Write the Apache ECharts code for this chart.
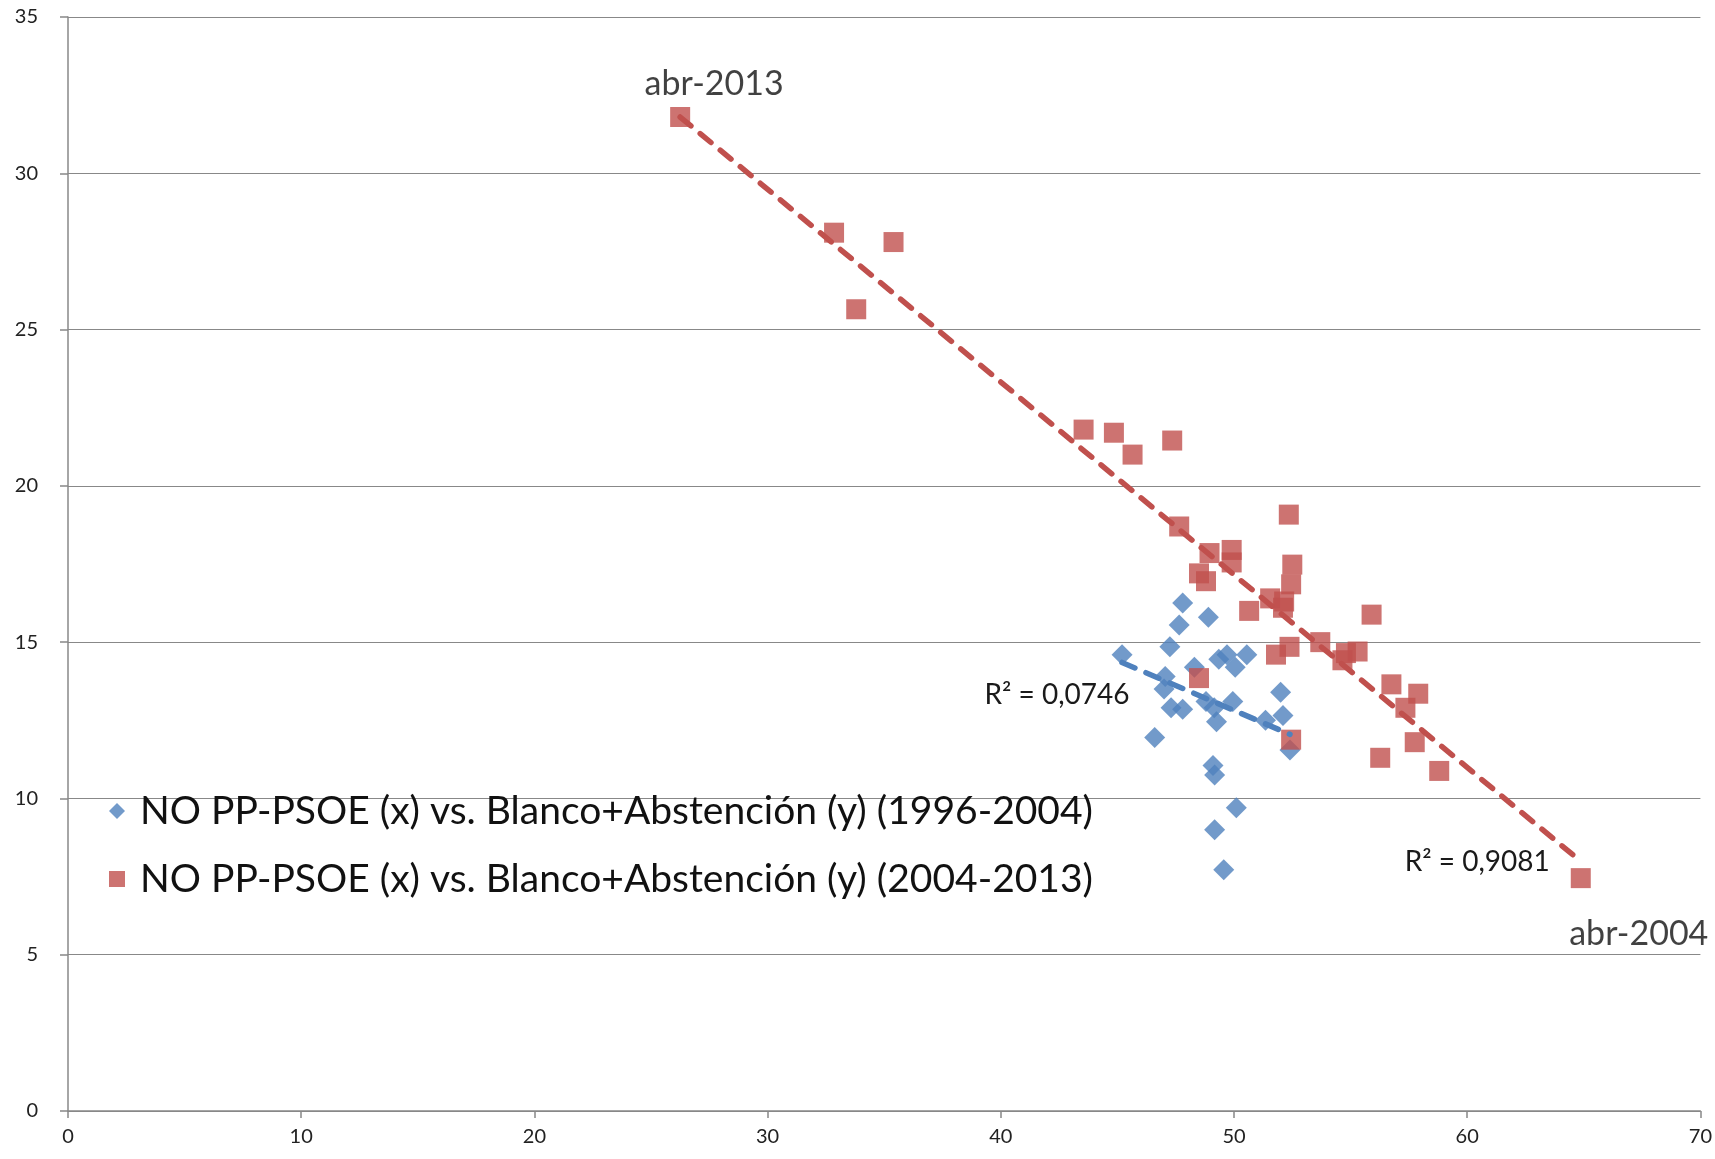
<!DOCTYPE html>
<html><head><meta charset="utf-8">
<script src="https://cdn.jsdelivr.net/npm/echarts@6/dist/echarts.min.js"></script>
<style>html,body{margin:0;padding:0;background:#fff}#c{width:1715px;height:1159px}</style>
</head><body><div id="c"></div>
<script>
const seriesNames = [
  'NO PP-PSOE (x) vs. Blanco+Abstención (y) (1996-2004)',
  'NO PP-PSOE (x) vs. Blanco+Abstención (y) (2004-2013)'
];
// 1996-2004 (blue diamonds)
const blueX = [45.2, 46.6, 47.05, 47.0, 47.25, 47.65, 47.8, 47.3, 47.8, 48.3, 48.9, 48.8, 49.15, 49.25, 49.95,
               49.35, 49.7, 50.55, 50.05, 51.35, 52.0, 52.1, 52.4, 49.1, 49.17, 50.1, 49.17, 49.56];
const blueY = [14.6, 11.95, 13.9, 13.5, 14.85, 15.55, 16.25, 12.9, 12.85, 14.2, 15.8, 13.1, 12.9, 12.45, 13.1,
               14.45, 14.6, 14.6, 14.2, 12.5, 13.4, 12.65, 11.55, 11.05, 10.75, 9.7, 9.0, 7.72];
// 2004-2013 (red squares)
const redX = [26.25, 32.85, 35.4, 33.8, 43.55, 44.85, 45.65, 47.35, 47.65, 48.95, 49.9, 49.9, 48.5, 48.8, 52.35,
              52.5, 52.45, 50.65, 51.55, 52.15, 52.1, 51.8, 52.38, 48.5, 52.45, 53.7, 54.8, 55.3, 54.65, 55.9,
              56.75, 57.9, 57.35, 57.75, 56.27, 58.8, 64.87];
const redY = [31.8, 28.1, 27.8, 25.65, 21.8, 21.7, 21.0, 21.45, 18.7, 17.85, 17.95, 17.55, 17.2, 16.95, 19.08,
              17.48, 16.85, 16.0, 16.4, 16.3, 16.1, 14.6, 14.85, 13.85, 11.88, 15.0, 14.65, 14.7, 14.42, 15.88,
              13.65, 13.35, 12.9, 11.8, 11.3, 10.88, 7.45];
// point annotations: [index into red data, text]
const redPointLabels = [[0, 'abr-2013'], [36, 'abr-2004']];
// trendline endpoints
const blueTrendX = [45.2, 52.4];
const blueTrendY = [14.35, 12.05];
const redTrendX = [26.25, 64.85];
const redTrendY = [31.8, 8.0];
const blueR2 = 'R² = 0,0746';
const redR2 = 'R² = 0,9081';
const xMin = 0, xMax = 70, xStep = 10;
const yMin = 0, yMax = 35, yStep = 5;

const BLUE = '#4F81BD', RED = '#C0504D', GRID = '#888888';
const FONT = 'Lato';

const pointLabelStyle = {
  0: { offset: [34, -33] },
  36: { offset: [58, 56] }
};
const labelIdx = Object.fromEntries(redPointLabels);

const blueData = blueX.map((x, i) => [x, blueY[i]]);
const redData = redX.map((x, i) => {
  const item = { value: [x, redY[i]] };
  if (labelIdx[i] !== undefined) {
    item.label = {
      show: true, formatter: labelIdx[i], position: 'inside',
      offset: pointLabelStyle[i].offset, color: '#111', fontSize: 34, fontFamily: FONT
    };
  }
  return item;
});
function trendData(xs, ys, r2, which, offset) {
  return xs.map((x, i) => {
    const item = { value: [x, ys[i]] };
    if (i === which) {
      item.label = { show: true, formatter: r2, position: 'inside', offset: offset,
        color: '#1a1a1a', fontSize: 28, fontFamily: FONT };
    }
    return item;
  });
}

const chart = echarts.init(document.getElementById('c'), null, { renderer: 'canvas' });
chart.setOption({
  animation: false,
  backgroundColor: '#fff',
  grid: { left: 68, right: 14, top: 17, bottom: 48, containLabel: false },
  xAxis: {
    type: 'value', min: xMin, max: xMax, interval: xStep,
    axisLine: { show: true, lineStyle: { color: GRID, width: 1.5 } },
    axisTick: { show: true, length: 7, lineStyle: { color: GRID, width: 1.5 } },
    splitLine: { show: false },
    axisLabel: { fontSize: 20, color: '#222', fontFamily: FONT, margin: 16 }
  },
  yAxis: {
    type: 'value', min: yMin, max: yMax, interval: yStep,
    axisLine: { show: true, onZero: false, lineStyle: { color: GRID, width: 1.5 } },
    axisTick: { show: true, length: 8, lineStyle: { color: GRID, width: 1.5 } },
    splitLine: { show: true, lineStyle: { color: GRID, width: 1.2 } },
    axisLabel: { fontSize: 20, color: '#222', fontFamily: FONT, margin: 30 }
  },
  legend: {
    orient: 'vertical', left: 104, top: 784, itemGap: 24,
    itemWidth: 16, itemHeight: 16,
    textStyle: { fontSize: 39, lineHeight: 44, color: '#111', fontFamily: FONT, padding: [0, 0, 0, 10] },
    data: [
      { name: seriesNames[0], icon: 'diamond' },
      { name: seriesNames[1], icon: 'rect' }
    ]
  },
  series: [
    { name: seriesNames[0], type: 'scatter', symbol: 'diamond', symbolSize: 21,
      itemStyle: { color: BLUE }, data: blueData, z: 2 },
    { name: seriesNames[1], type: 'scatter', symbol: 'rect', symbolSize: 20,
      itemStyle: { color: RED }, data: redData, z: 3 },
    { name: 'trend1', type: 'line', symbol: 'circle', symbolSize: 0, showSymbol: true,
      lineStyle: { color: BLUE, width: 5.5, type: [14, 12], cap: 'round' }, itemStyle: { color: BLUE },
      data: trendData(blueTrendX, blueTrendY, blueR2, 0, [-65, 33]), z: 4, silent: true },
    { name: 'trend2', type: 'line', symbol: 'circle', symbolSize: 0, showSymbol: true,
      lineStyle: { color: RED, width: 5.5, type: [14, 12], cap: 'round' }, itemStyle: { color: RED },
      data: trendData(redTrendX, redTrendY, redR2, 1, [-103, 1]), z: 5, silent: true }
  ]
});
</script></body></html>
